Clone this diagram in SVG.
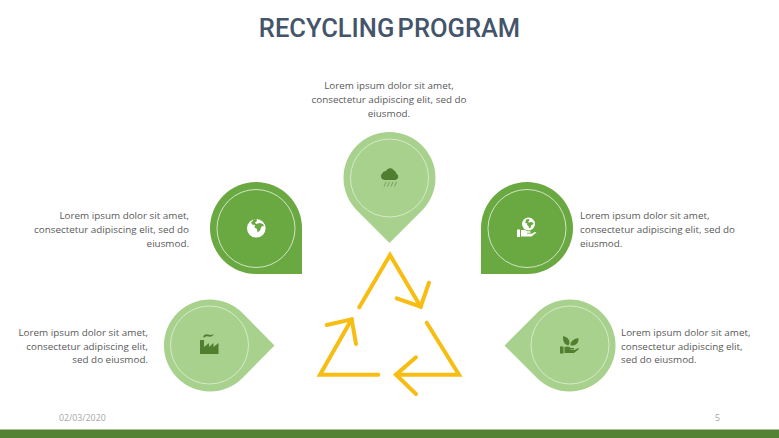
<svg xmlns="http://www.w3.org/2000/svg" width="779" height="438" viewBox="0 0 779 438">
<style>
.t{font-family:"Open Sans","Liberation Sans",sans-serif;font-size:9.85px;fill:#595959}
.e{text-anchor:end}.m{text-anchor:middle}
.f{font-family:"Open Sans","Liberation Sans",sans-serif;font-size:8.8px;fill:#a6a6a6}
.l{fill:#a9d18e}.d{fill:#6aa842}
.r{fill:none;stroke:#d9ecce;stroke-width:.9}
.a{fill:none;stroke:#f8bd12;stroke-width:4;stroke-linecap:round;stroke-linejoin:miter}
.ic{fill:#4f7f2f}.w{fill:#fff}
</style>
<rect width="779" height="438" fill="#fff"/>
<text id="title" x="389.500" y="37" text-anchor="middle" font-family="Roboto,'Liberation Sans',sans-serif" font-weight="500" font-size="25.500" word-spacing="-3" fill="#44546a">RECYCLING PROGRAM</text>

<g id="node-top">
<path class="l" d="M389.500 243 L357 210.500 A46 46 0 1 1 422 210.500Z"/>
<circle class="r" cx="389.500" cy="178" r="39"/>
<path class="ic" d="M384.500 180 a3.600 3.600 0 0 1 -2.300 -6.400 a3.700 3.700 0 0 1 3.800 -2.700 a4.500 4.500 0 0 1 8 -.4 a4 4 0 0 1 2.500 3.300 a3.300 3.300 0 0 1 -1 6.200Z"/>
<path d="M384 186.500l2-4.500M387.500 186.500l2-4.500M391 186.500l2-4.500M394.500 186.500l2-4.500" stroke="#6f9a55" stroke-width=".9" fill="none"/>
<text class="t m"><tspan x="389" y="89">Lorem ipsum dolor sit amet,</tspan><tspan x="389" y="103">consectetur adipiscing elit, sed do</tspan><tspan x="389" y="117">eiusmod.</tspan></text>
</g>

<g id="node-upper-left">
<path class="d" d="M302 274 H256 A46 46 0 1 1 302 228Z"/>
<circle class="r" cx="256" cy="228.500" r="39"/>
<circle class="w" cx="256.300" cy="228.300" r="9.300"/>
<path class="d" d="M253 219.500 l3.500 -.5 .5 2 -2 1.500 1 1.500 3.500 -1 3.500 1 1 2 -2.500 .5 -1.500 4 -2.500 2 -.5 -3.500 -2.500 -1.500 .5 -2.500 -3 -.5 -1 -2.500 1.500 -.5z"/>
<text class="t e"><tspan x="189" y="219">Lorem ipsum dolor sit amet,</tspan><tspan x="189" y="233">consectetur adipiscing elit, sed do</tspan><tspan x="189" y="247">eiusmod.</tspan></text>
</g>

<g id="node-upper-right">
<path class="d" d="M481 274 V228 A46 46 0 1 1 527 274Z"/>
<circle class="r" cx="527" cy="228.500" r="39"/>
<circle class="w" cx="528.500" cy="224" r="6.500"/>
<path class="d" d="M526 219.500l3-.5 .5 1.500-1.500 1 1 1 2.500-.5 2 1-.5 1.500-1.500 .5-1 2.500-1.500 1-.5-2.500-1.500-1 .3-1.500-2-.5z"/>
<path class="w" d="M517 229.500h3v7.500h-3z"/>
<path class="w" d="M521 230.300 l3.500 -.5 3 1.500 h3 v1.500 h-3.500 v.7 l4.500 .3 3.500 -1.700 1.500 .5 -5 4 h-10.500z"/>
<text class="t"><tspan x="580" y="219">Lorem ipsum dolor sit amet,</tspan><tspan x="580" y="233">consectetur adipiscing elit, sed do</tspan><tspan x="580" y="247">eiusmod.</tspan></text>
</g>

<g id="node-lower-left">
<path class="l" d="M274.500 345.500 L242.500 378 A46 46 0 1 1 242.500 313Z"/>
<circle class="r" cx="209.500" cy="345" r="39"/>
<path class="ic" d="M200 354 V340 H204 V347 L209 343 V347 L213.500 343 V347 L218.500 343 V354Z"/>
<path class="ic" d="M203 337 q1 -3.500 5 -2.500 q3 1 6 -.500 q-2 3.500 -5 2.500 q-3 -1 -4.500 1z"/>
<text class="t e"><tspan x="148" y="336">Lorem ipsum dolor sit amet,</tspan><tspan x="148" y="349.500">consectetur adipiscing elit,</tspan><tspan x="148" y="363">sed do eiusmod.</tspan></text>
</g>

<g id="node-lower-right">
<path class="l" d="M504.500 345.500 L537 313 A46 46 0 1 1 537 378Z"/>
<circle class="r" cx="570" cy="345" r="39"/>
<path class="ic" d="M568.500 345.500 q-6 -1 -5.500 -9.500 q6.500 1.500 6.500 7z"/>
<path class="ic" d="M570.500 345.500 q-.5 -6 8 -7.500 q.5 7 -5.500 7.500z"/>
<path class="ic" d="M560 346.500h3.500v7h-3.500z"/>
<path class="ic" d="M564.500 347 l3.500 -.5 3 1.500 h3 v1.500 h-3.500 v.5 l4 0 3.500 -2 1 1 -5 4 h-9.500z"/>
<text class="t"><tspan x="621" y="336">Lorem ipsum dolor sit amet,</tspan><tspan x="621" y="349.500">consectetur adipiscing elit,</tspan><tspan x="621" y="363">sed do eiusmod.</tspan></text>
</g>

<g id="connectors">
<path class="a" d="M359.300 307.300 L390 255 L420.700 306.700"/>
<path class="a" d="M396.700 298.300 L420.700 306.700 L429 282.700"/>
<path class="a" d="M426.700 322.700 L459 374.700 H396"/>
<path class="a" d="M416 357.300 L396 374.700 L416 394"/>
<path class="a" d="M378.300 374.700 H320 L351.700 319.300"/>
<path class="a" d="M326.700 325 L351.700 319.300 L356 344"/>
</g>

<text class="f" x="59" y="421">02/03/2020</text>
<text class="f" x="715" y="421">5</text>
<rect y="429.500" width="779" height="8.500" fill="#548235"/>
</svg>
